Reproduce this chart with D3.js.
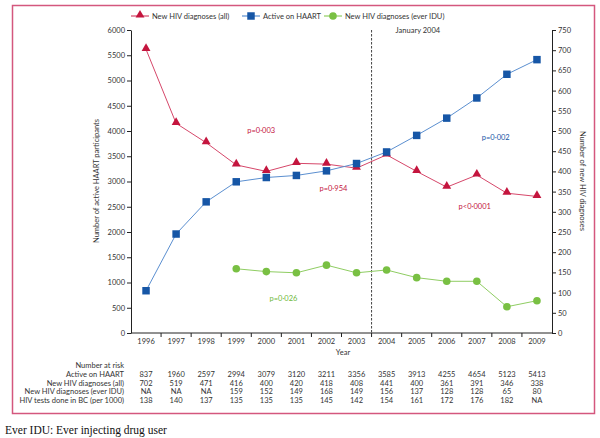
<!DOCTYPE html>
<html><head><meta charset="utf-8">
<script src="https://cdn.jsdelivr.net/npm/d3@7"></script>
<style>
body{margin:0;background:#fff;}
svg{display:block;font-family:Lato,"Open Sans",sans-serif;}
</style></head>
<body><svg id="c" width="600" height="438"></svg>
<script>
const years = [1996,1997,1998,1999,2000,2001,2002,2003,2004,2005,2006,2007,2008,2009];
const haart = [837,1960,2597,2994,3079,3120,3211,3356,3585,3913,4255,4654,5123,5413];
const newAll = [702,519,471,416,400,420,418,408,441,400,361,391,346,338];
const newIDU = [null,null,null,159,152,149,168,149,156,137,128,128,65,80];
const tests = [138,140,137,135,135,135,145,142,154,161,172,176,182,null];
const leftTicks = d3.range(0,6001,500);
const rightTicks = d3.range(0,751,50);
const seriesNames = ["New HIV diagnoses (all)","Active on HAART","New HIV diagnoses (ever IDU)"];
const rowLabels = ["Active on HAART","New HIV diagnoses (all)","New HIV diagnoses (ever IDU)","HIV tests done in BC (per 1000)"];
const pLabels = [
  {t:"p=0·003", c:"red", yr:1999.83, v:3960},
  {t:"p=0·954", c:"red", yr:2002.23, v:2810},
  {t:"p=0·026", c:"green", yr:2000.57, v:640},
  {t:"p=0·002", c:"blue", yr:2007.63, v:3820},
  {t:"p<0·0001", c:"red", yr:2006.93, v:2460}
];

const RED="#c4153e", BLUE="#1656a6", BLUE_L="#5b8fd0", GREEN="#79c043", GREEN_L="#8fcd62";
const colors={red:RED,blue:BLUE,green:"#6fb83a"};
const svg=d3.select("#c");
const TXT="#333";

// frame
svg.append("rect").attr("x",12.5).attr("y",5.5).attr("width",582).attr("height",408)
  .attr("fill","none").attr("stroke","#d4577e").attr("stroke-width",1.5);

const x=d3.scaleBand().domain(years).range([131,552]).padding(0);
const bw=x.bandwidth();
const cx=d=>x(d)+bw/2;
const yL=d3.scaleLinear().domain([0,6000]).range([333,30]);
const yR=d3.scaleLinear().domain([0,750]).range([333,30]);

// axes
const gL=svg.append("g").attr("transform","translate(131,0)")
  .call(d3.axisLeft(yL).tickValues(leftTicks).tickFormat(d3.format("d")).tickSize(4).tickSizeOuter(0).tickPadding(2));
const gR=svg.append("g").attr("transform","translate(552,0)")
  .call(d3.axisRight(yR).tickValues(rightTicks).tickFormat(d3.format("d")).tickSize(4).tickSizeOuter(0).tickPadding(2));
const gX=svg.append("g").attr("transform","translate(0,333)")
  .call(d3.axisBottom(x).tickSize(0).tickPadding(6).tickSizeOuter(0));
[gL,gR,gX].forEach(g=>{
  g.selectAll("text").attr("font-size",7.5).attr("fill",TXT).attr("font-family","Lato,'Open Sans',sans-serif");
  g.selectAll("line,path").attr("stroke","#222");
});
gX.select(".domain").attr("d","M131,0H552");
// boundary ticks on x axis
svg.append("g").selectAll("line").data(years.slice(1)).join("line")
  .attr("x1",d=>x(d)).attr("x2",d=>x(d)).attr("y1",333).attr("y2",337).attr("stroke","#222");

// axis titles
svg.append("text").attr("transform","translate(99,181) rotate(-90)").attr("text-anchor","middle")
  .attr("font-size",7.5).attr("fill",TXT).text("Number of active HAART participants");
svg.append("text").attr("transform","translate(580,181) rotate(90)").attr("text-anchor","middle")
  .attr("font-size",7.5).attr("fill",TXT).text("Number of new HIV diagnoses");
svg.append("text").attr("x",343).attr("y",355).attr("text-anchor","middle")
  .attr("font-size",7.5).attr("fill",TXT).text("Year");

// January 2004 line
svg.append("line").attr("x1",x(2004)).attr("x2",x(2004)).attr("y1",30).attr("y2",333)
  .attr("stroke","#444").attr("stroke-width",1).attr("stroke-dasharray","2.5,1.5");
svg.append("text").attr("x",x(2004)+24).attr("y",33).attr("font-size",7.5).attr("fill",TXT).text("January 2004");

// lines
const idxs=years.map((d,i)=>i);
const lineL=d3.line().x(i=>cx(years[i])).y(i=>yL(haart[i]));
const lineA=d3.line().x(i=>cx(years[i])).y(i=>yR(newAll[i]));
const lineI=d3.line().defined(i=>newIDU[i]!=null).x(i=>cx(years[i])).y(i=>yR(newIDU[i]));
svg.append("path").attr("d",lineA(idxs)).attr("fill","none").attr("stroke","#d6476a").attr("stroke-width",1);
svg.append("path").attr("d",lineL(idxs)).attr("fill","none").attr("stroke",BLUE_L).attr("stroke-width",1);
svg.append("path").attr("d",lineI(idxs)).attr("fill","none").attr("stroke",GREEN_L).attr("stroke-width",1);

const tri=d3.symbol().type(d3.symbolTriangle).size(34);
const sq=d3.symbol().type(d3.symbolSquare).size(56);
svg.append("g").selectAll("path").data(idxs).join("path")
  .attr("d",tri).attr("transform",i=>`translate(${cx(years[i])},${yR(newAll[i])-1})`).attr("fill",RED);
svg.append("g").selectAll("path").data(idxs).join("path")
  .attr("d",sq).attr("transform",i=>`translate(${cx(years[i])},${yL(haart[i])})`).attr("fill",BLUE);
svg.append("g").selectAll("circle").data(idxs.filter(i=>newIDU[i]!=null)).join("circle")
  .attr("cx",i=>cx(years[i])).attr("cy",i=>yR(newIDU[i])).attr("r",3.8).attr("fill",GREEN);

// p labels
pLabels.forEach(p=>{
  const f=Math.floor(p.yr);
  const xx=cx(f)+(p.yr-f)*bw;
  svg.append("text").attr("x",xx).attr("y",yL(p.v)).attr("text-anchor","middle")
    .attr("font-size",7.5).attr("fill",colors[p.c]).text(p.t);
});

// legend
const leg=[{n:seriesNames[0],x:131,c:"#d6476a",m:"tri",mc:RED},
           {n:seriesNames[1],x:242,c:BLUE_L,m:"sq",mc:BLUE},
           {n:seriesNames[2],x:324,c:GREEN_L,m:"ci",mc:GREEN}];
leg.forEach(l=>{
  const g=svg.append("g").attr("transform",`translate(${l.x},16)`);
  g.append("line").attr("x1",0).attr("x2",18).attr("y1",0).attr("y2",0).attr("stroke",l.c).attr("stroke-width",1.2);
  if(l.m==="tri") g.append("path").attr("d",tri).attr("transform","translate(9,-1)").attr("fill",l.mc);
  if(l.m==="sq") g.append("path").attr("d",sq).attr("transform","translate(9,0)").attr("fill",l.mc);
  if(l.m==="ci") g.append("circle").attr("cx",9).attr("cy",0).attr("r",3.8).attr("fill",l.mc);
  g.append("text").attr("x",21).attr("y",2.7).attr("font-size",7.5).attr("fill",TXT).text(l.n);
});

// table
svg.append("text").attr("x",124).attr("y",368).attr("text-anchor","end").attr("font-size",7.5).attr("fill",TXT).text("Number at risk");
const rows=[haart,newAll,newIDU,tests];
rows.forEach((r,ri)=>{
  const yy=377+ri*8.5;
  svg.append("text").attr("x",124).attr("y",yy).attr("text-anchor","end").attr("font-size",7.5).attr("fill",TXT).text(rowLabels[ri]);
  svg.append("g").selectAll("text").data(idxs).join("text")
    .attr("x",i=>cx(years[i])).attr("y",yy).attr("text-anchor","middle").attr("font-size",7.5).attr("fill",TXT)
    .text(i=>r[i]==null?"NA":r[i]);
});

// footnote
svg.append("text").attr("x",5).attr("y",434).attr("font-family","'Liberation Serif','Times New Roman',serif")
  .attr("font-size",11.5).attr("fill","#111").text("Ever IDU: Ever injecting drug user");
</script></body></html>
